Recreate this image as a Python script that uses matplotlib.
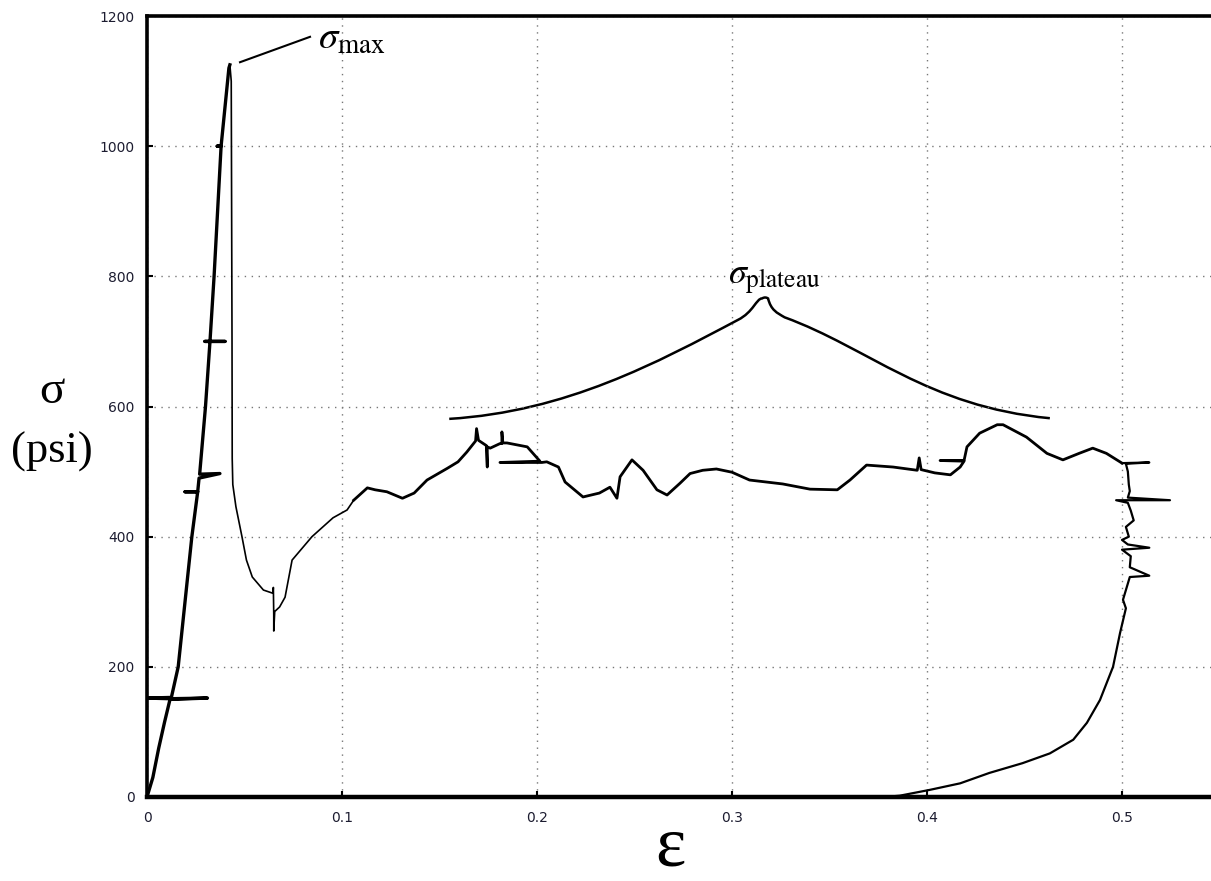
import numpy as np
import matplotlib
matplotlib.use("Agg")
import matplotlib.pyplot as plt
from matplotlib.path import Path
from matplotlib.patches import PathPatch

# strain / stress readings (stress in psi)
eps_load = [0.000, 0.003, 0.006, 0.009, 0.0118, 0.031, 0.0118, 0.000, 0.0125,
            0.016, 0.0195, 0.023, 0.026, 0.0195, 0.026, 0.0267, 0.0374,
            0.027, 0.030, 0.0323, 0.040, 0.0297, 0.0323, 0.0344, 0.038,
            0.036, 0.038, 0.042, 0.0425]
sig_load = [0, 30, 75, 115, 150, 152, 151, 152, 153,
            200, 300, 400, 469, 469, 469, 490, 497,
            496, 600, 700, 700, 700, 700, 800, 1000,
            1000, 1000, 1120, 1125]

eps_drop = [0.0425, 0.0432, 0.0434, 0.0436, 0.0437, 0.044, 0.0456, 0.0487,
            0.051, 0.054, 0.0597, 0.0646, 0.0648, 0.0650, 0.0650, 0.0655,
            0.068, 0.0708, 0.0744, 0.0846, 0.0954, 0.1026, 0.106]
sig_drop = [1125, 1100, 900, 700, 520, 480, 446, 400,
            364, 338, 318, 313, 322, 280, 255, 285,
            292, 307, 364, 400, 429, 441, 456]

eps_plat = [0.106, 0.113, 0.117, 0.123, 0.131, 0.137, 0.1436, 0.154, 0.1595,
            0.164, 0.1685, 0.169, 0.170, 0.174, 0.1745, 0.1745, 0.176, 0.181,
            0.182, 0.182, 0.1825, 0.1846, 0.195, 0.2015, 0.181, 0.2025, 0.205,
            0.211, 0.2144, 0.2236, 0.232, 0.2374, 0.241, 0.2426, 0.2487,
            0.2544, 0.2615, 0.2667, 0.2733, 0.2785, 0.285, 0.292, 0.300, 0.309,
            0.326, 0.340, 0.354, 0.3605, 0.369, 0.3826, 0.395, 0.396, 0.397,
            0.404, 0.412, 0.417, 0.419, 0.4067, 0.419, 0.4205, 0.427, 0.436,
            0.439, 0.451, 0.4615, 0.4697, 0.478, 0.485, 0.492, 0.500]
sig_plat = [456, 475, 472, 469, 459, 467, 487, 505, 515,
            530, 547, 566, 548, 540, 507, 538, 536, 543,
            543, 561, 544, 544, 538, 516, 514, 514, 515,
            507, 484, 461, 467, 476, 459, 492, 518,
            502, 472, 464, 482, 497, 502, 504, 499, 487,
            481, 473, 472, 487, 510, 507, 502, 521, 503,
            498, 495, 507, 516, 517, 517, 538, 559, 572,
            572, 553, 528, 518, 528, 536, 528, 513]

eps_unload = [0.500, 0.514, 0.502, 0.503, 0.5035, 0.504, 0.503, 0.5246, 0.497,
              0.503, 0.5045, 0.506, 0.502, 0.5035, 0.500, 0.503, 0.514, 0.500,
              0.5045, 0.504, 0.514, 0.504, 0.5005, 0.502, 0.499, 0.4954,
              0.4887, 0.482, 0.475, 0.463, 0.449, 0.432, 0.417, 0.4015, 0.386,
              0.378]
sig_unload = [513, 514, 512, 500, 480, 470, 460, 456, 456,
              452, 440, 425, 415, 400, 395, 388, 383, 380,
              370, 353, 340, 338, 303, 290, 252, 200,
              149, 114, 88, 67, 52, 37, 21, 11, 2,
              0]

W, H = 1211, 881
fig = plt.figure(figsize=(W / 100, H / 100), dpi=100)
plt.rcParams['mathtext.fontset'] = 'stix'

ax = fig.add_axes([147 / W, 1 - 797 / H, 0.55 * 1950 / W, 781 / H])

ax.plot(eps_load, sig_load, color='black', lw=2.4, solid_joinstyle='round')
ax.plot(eps_drop, sig_drop, color='black', lw=1.2)
ax.plot(eps_plat, sig_plat, color='black', lw=2.0, solid_joinstyle='round')
ax.plot(eps_unload, sig_unload, color='black', lw=1.6, solid_joinstyle='round')

ax.set_xlim(0, 0.55)
ax.set_ylim(0, 1200)
ax.set_xticks([0, 0.1, 0.2, 0.3, 0.4, 0.5])
ax.set_xticklabels(['0', '0.1', '0.2', '0.3', '0.4', '0.5'])
ax.set_yticks([0, 200, 400, 600, 800, 1000, 1200])
ax.grid(True, color='#777777', linestyle=(0, (1, 4)), lw=1.0)
ax.tick_params(direction='in', length=4, width=1.5, labelsize=10,
               labelcolor='#1c1c30')
ax.tick_params(axis='x', pad=10)
ax.tick_params(axis='y', pad=9)
for side in ['left', 'top']:
    ax.spines[side].set_linewidth(2.6)
ax.spines['bottom'].set_linewidth(3.2)
ax.spines['right'].set_visible(False)

# peak label with leader
ax.plot([0.0477, 0.0836], [1129, 1168], color='black', lw=1.5)
ax.text(0.0877, 1150, r'$\sigma_{\mathrm{max}}$', fontsize=28,
        ha='left', va='baseline')

# brace over the plateau region
verts = [(0.155, 581), (0.215, 592), (0.262, 668), (0.303, 733),
         (0.311, 745), (0.3125, 766), (0.3154, 766),
         (0.3165, 768), (0.3175, 768), (0.3185, 766),
         (0.320, 748), (0.323, 744), (0.327, 737),
         (0.37, 690), (0.40, 600), (0.463, 582)]
codes = [Path.MOVETO] + [Path.CURVE4] * 15
ax.add_patch(PathPatch(Path(verts, codes), fill=False, lw=1.8, color='black'))
ax.text(0.298, 788, r'$\sigma_{\mathrm{plateau}}$', fontsize=26,
        ha='left', va='baseline')

# axis titles
fig.text(52 / W, 1 - 392 / H, 'σ', fontsize=34, family='Liberation Serif',
         ha='center', va='center')
fig.text(52 / W, 1 - 452 / H, '(psi)', fontsize=32, family='Liberation Serif',
         ha='center', va='center')
fig.text(670 / W, 1 - 848 / H, 'ε', fontsize=52, family='Liberation Serif',
         ha='center', va='center')

plt.savefig('out.png', dpi=100)
